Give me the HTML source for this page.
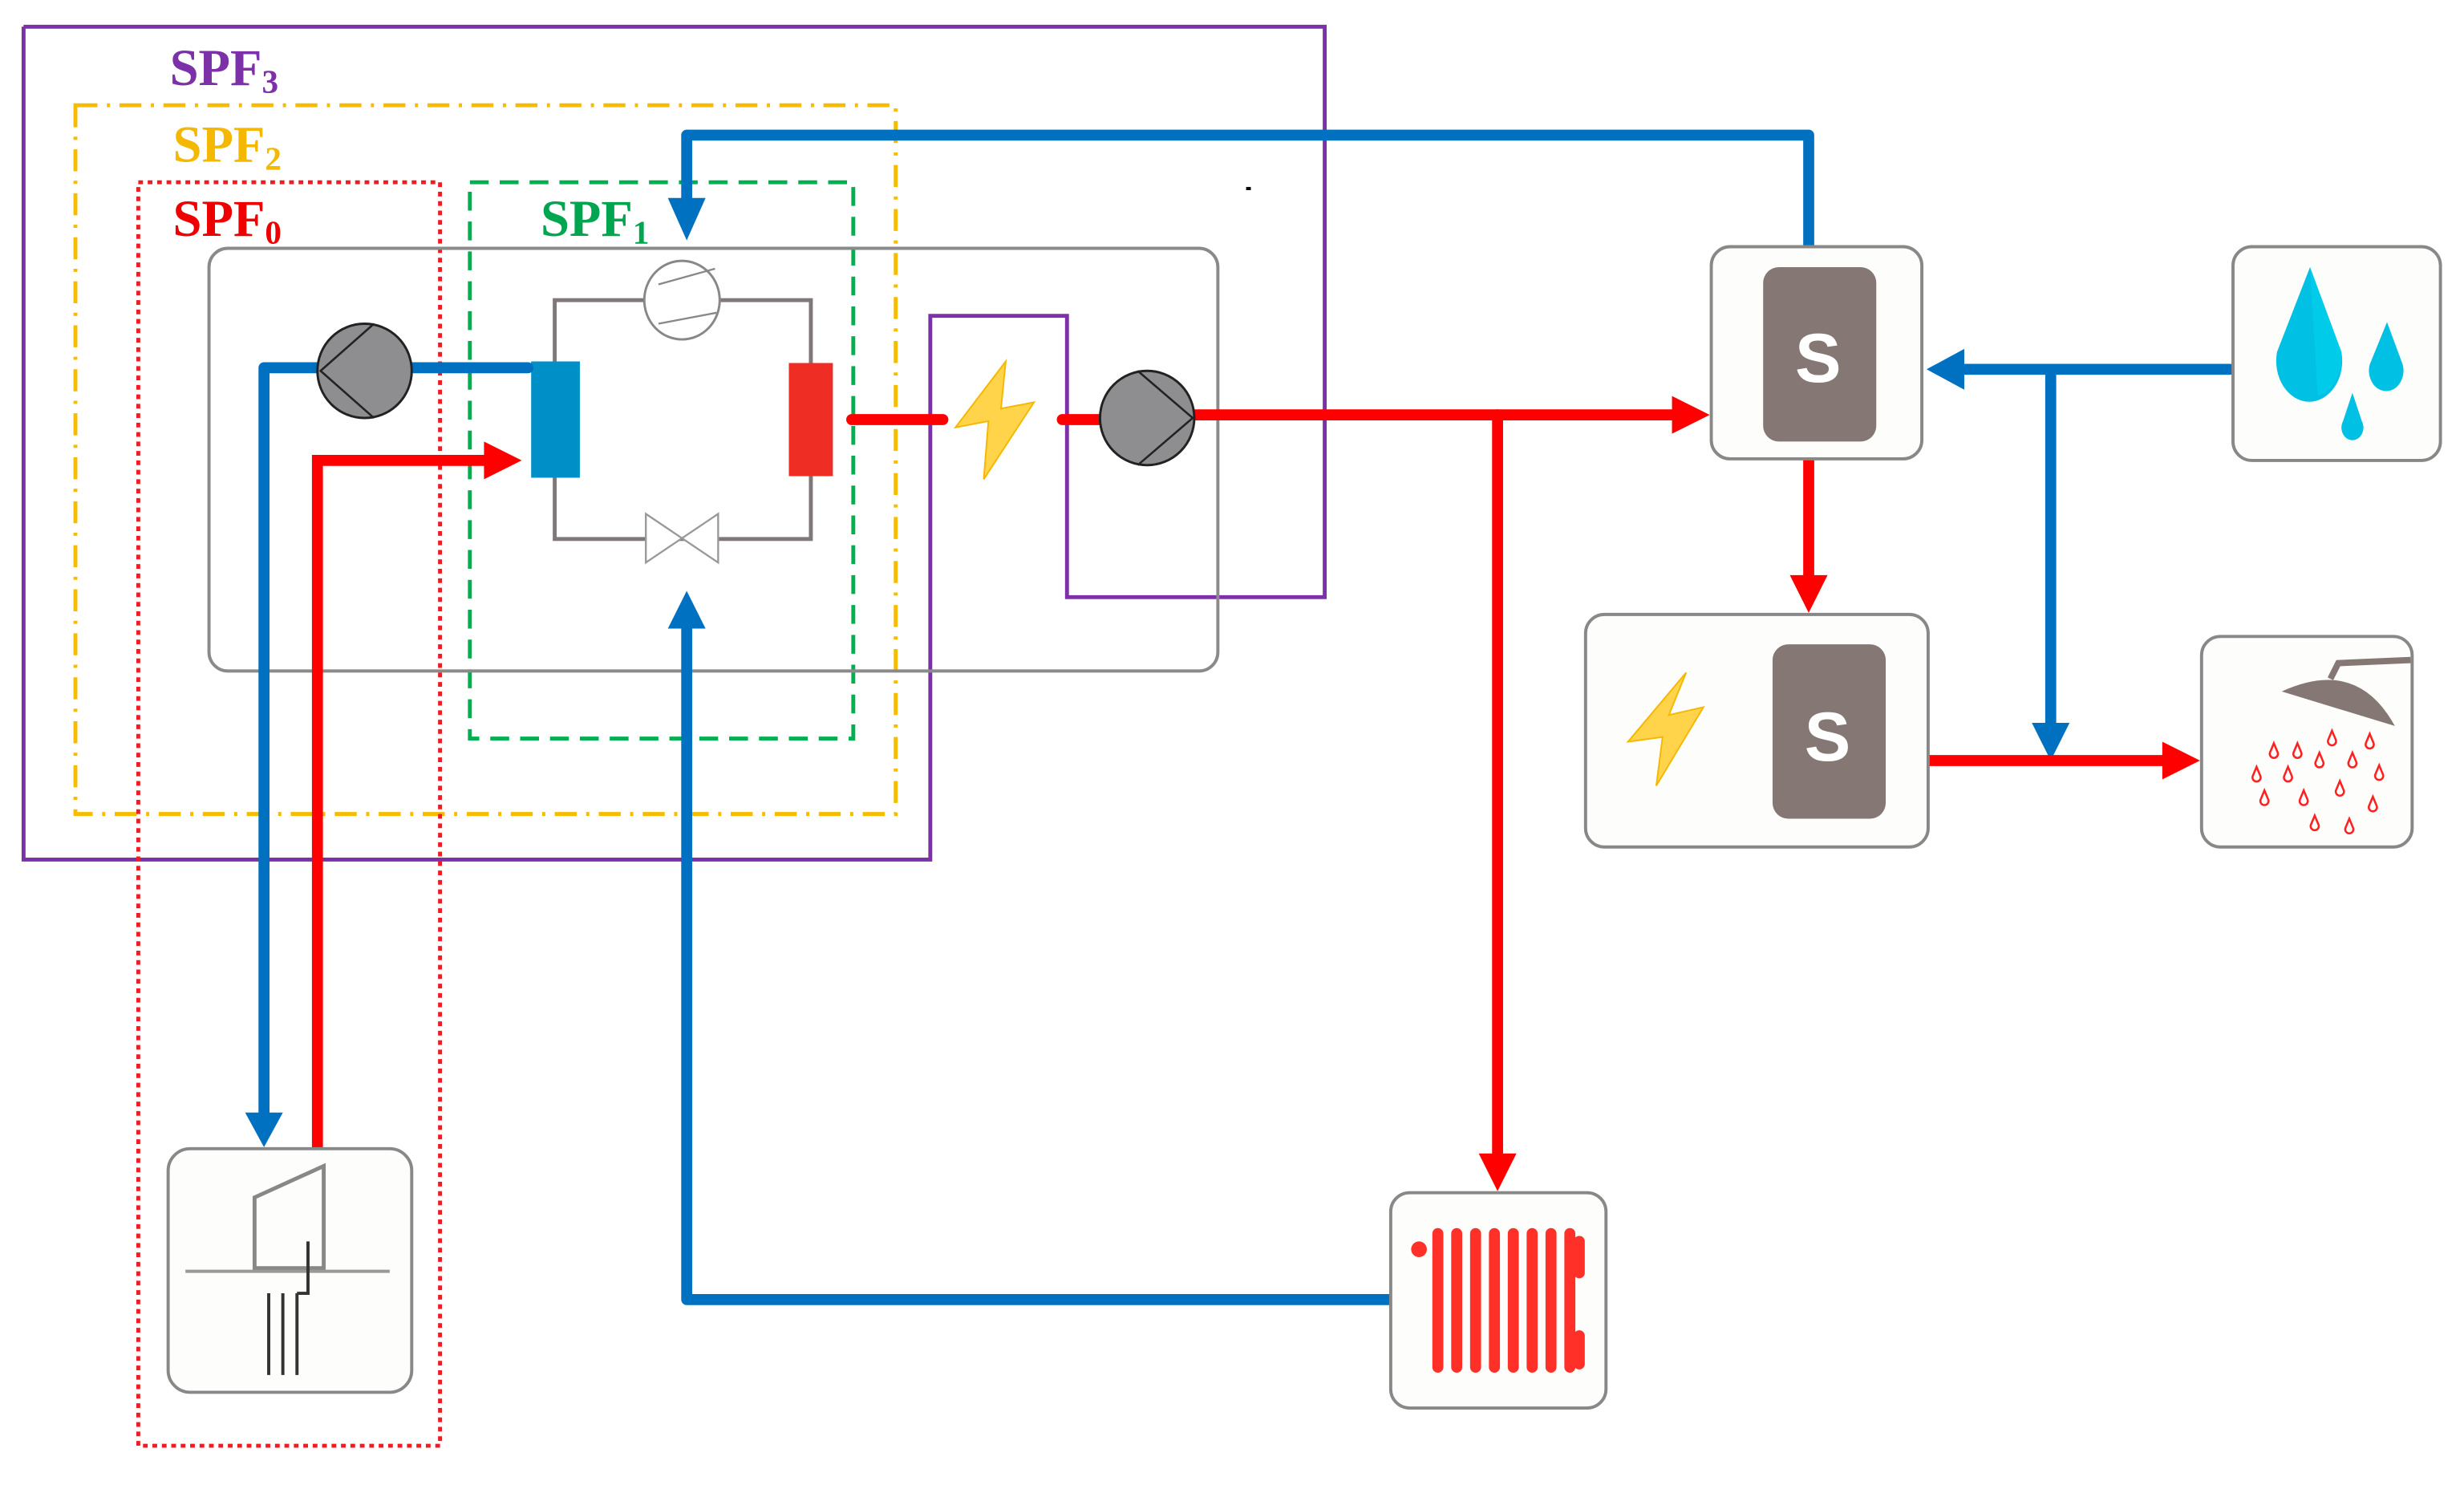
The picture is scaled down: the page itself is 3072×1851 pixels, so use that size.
<!DOCTYPE html>
<html><head><meta charset="utf-8"><style>
html,body{margin:0;padding:0;background:#fff;}
svg{display:block;}
.lbl{font-family:"Liberation Serif",serif;font-weight:bold;font-size:33px;}
.sub{font-size:21px;}
</style></head><body>
<svg width="3072" height="1851" viewBox="0 0 1568 945" preserveAspectRatio="none" xmlns="http://www.w3.org/2000/svg">
<polyline points="15,17 843,17 843,380 679,380 679,201 592,201 592,547 15,547 15,17" fill="none" stroke="#7d31a8" stroke-width="2.5"/>
<rect x="48" y="67" width="522" height="451" fill="none" stroke="#f5bc00" stroke-width="2.5" stroke-dasharray="14,6,2,6"/>
<rect x="88" y="116" width="192" height="804" fill="none" stroke="#ee1c24" stroke-width="2.5" stroke-dasharray="3,3"/>
<rect x="299" y="116" width="244" height="354" fill="none" stroke="#00b050" stroke-width="2.5" stroke-dasharray="12,7"/>
<text class="lbl" x="108" y="54" fill="#7d31a8">SPF<tspan class="sub" dy="5">3</tspan></text>
<text class="lbl" x="110" y="103" fill="#f5b800">SPF<tspan class="sub" dy="5">2</tspan></text>
<text class="lbl" x="110" y="150" fill="#ee0000">SPF<tspan class="sub" dy="5">0</tspan></text>
<text class="lbl" x="344" y="150" fill="#00a550">SPF<tspan class="sub" dy="5">1</tspan></text>
<rect x="793" y="119" width="3" height="2" fill="#000"/>
<rect x="133" y="158" width="642" height="269" rx="12" fill="none" stroke="#8a8a8a" stroke-width="2"/>
<rect x="353" y="191" width="163" height="152" fill="none" stroke="#807878" stroke-width="2.5"/>
<ellipse cx="434" cy="191" rx="24" ry="25" fill="#fff" stroke="#888" stroke-width="1.5"/>
<line x1="419" y1="181" x2="455" y2="171" stroke="#888" stroke-width="1.2"/>
<line x1="419" y1="206" x2="456" y2="199" stroke="#888" stroke-width="1.2"/>
<polygon points="411,327 457,358 457,327 411,358" fill="#fff" stroke="#999" stroke-width="1.2"/>
<rect x="338" y="230" width="31" height="74" fill="#0090c8"/>
<rect x="502" y="231" width="28" height="72" fill="#ee2e24"/>
<g stroke="#0070c0" stroke-width="7" fill="none" stroke-linecap="round" stroke-linejoin="round">
<polyline points="336,234 262,234"/>
<polyline points="203,234 168,234 168,712"/>
<polyline points="1151,157 1151,86 437,86 437,130"/>
<polyline points="885,827 437,827 437,395"/>
<polyline points="1419,235 1245,235"/>
<polyline points="1305,235 1305,465"/>
</g>
<g fill="#0070c0">
<polygon points="156,708 180,708 168,730"/>
<polygon points="425,126 449,126 437,153"/>
<polygon points="425,400 449,400 437,376"/>
<polygon points="1250,222 1250,248 1226,235"/>
<polygon points="1293,460 1317,460 1305,484"/>
</g>
<g stroke="#ff0000" stroke-width="7" fill="none" stroke-linecap="round" stroke-linejoin="square">
<polyline points="202,730 202,293 312,293"/>
<polyline points="542,267 600,267"/>
<polyline points="676,267 700,267"/>
<polyline points="760,264 1068,264"/>
<polyline points="953,264 953,738"/>
<polyline points="1151,293 1151,370"/>
<polyline points="1228,484 1380,484"/>
</g>
<g fill="#ff0000">
<polygon points="308,281 308,305 332,293"/>
<polygon points="1064,252 1064,276 1088,264"/>
<polygon points="941,734 965,734 953,758"/>
<polygon points="1139,366 1163,366 1151,390"/>
<polygon points="1376,472 1376,496 1400,484"/>
</g>
<ellipse cx="232" cy="236" rx="30" ry="30" fill="#8e8e90" stroke="#222" stroke-width="1.5"/>
<polyline points="238,206 204,236 238,266" fill="none" stroke="#222" stroke-width="1.3"/>
<ellipse cx="730" cy="266" rx="30" ry="30" fill="#8e8e90" stroke="#222" stroke-width="1.5"/>
<polyline points="724,236 759,266 724,296" fill="none" stroke="#222" stroke-width="1.3"/>
<polygon points="640,230 608,272 629,268 626,305 658,256 637,260" fill="#ffd44a" stroke="#f5b800" stroke-width="1"/>
<rect x="1089" y="157" width="134" height="135" rx="12" fill="#fdfdfb" stroke="#888" stroke-width="2"/>
<rect x="1122" y="170" width="72" height="111" rx="10" fill="#857874"/>
<text x="1157" y="243" text-anchor="middle" font-family="Liberation Sans,sans-serif" font-weight="bold" font-size="44" fill="#fff">S</text>
<rect x="1009" y="391" width="218" height="148" rx="12" fill="#fdfdfb" stroke="#888" stroke-width="2"/>
<polygon points="1073,428 1036,472 1058,469 1054,500 1084,450 1062,455" fill="#ffd44a" stroke="#f5b800" stroke-width="1"/>
<rect x="1128" y="410" width="72" height="111" rx="10" fill="#857874"/>
<text x="1163" y="484" text-anchor="middle" font-family="Liberation Sans,sans-serif" font-weight="bold" font-size="44" fill="#fff">S</text>
<rect x="1421" y="157" width="132" height="136" rx="12" fill="#fdfdfb" stroke="#888" stroke-width="2"/>
<path d="M1470,170 L1490,224 A21,26 0 1 1 1449,224 Z" fill="#00c0e4"/>
<path d="M1470,170 L1490,224 A21,26 0 0 1 1475,252 Z" fill="#00ccea"/>
<path d="M1519,205 L1529,232 A11,13 0 1 1 1508,232 Z" fill="#00c0e4"/>
<path d="M1497,250 L1503,268 A7,8 0 1 1 1491,268 Z" fill="#00c0e4"/>
<rect x="1401" y="405" width="134" height="134" rx="12" fill="#fdfdfb" stroke="#888" stroke-width="2"/>
<path d="M1452,440 Q1500,418 1524,462 Z" fill="#857874"/>
<polyline points="1483,432 1488,422 1534,420" fill="none" stroke="#857874" stroke-width="4"/>
<g fill="none" stroke="#ff2020" stroke-width="1.3">
<path id="d" d="M0,-5 L2.5,1 A2.6,2.6 0 1 1 -2.5,1 Z" transform="translate(1447,478)"/>
<path d="M0,-5 L2.5,1 A2.6,2.6 0 1 1 -2.5,1 Z" transform="translate(1462,478)"/>
<path d="M0,-5 L2.5,1 A2.6,2.6 0 1 1 -2.5,1 Z" transform="translate(1484,470)"/>
<path d="M0,-5 L2.5,1 A2.6,2.6 0 1 1 -2.5,1 Z" transform="translate(1508,472)"/>
<path d="M0,-5 L2.5,1 A2.6,2.6 0 1 1 -2.5,1 Z" transform="translate(1436,493)"/>
<path d="M0,-5 L2.5,1 A2.6,2.6 0 1 1 -2.5,1 Z" transform="translate(1456,493)"/>
<path d="M0,-5 L2.5,1 A2.6,2.6 0 1 1 -2.5,1 Z" transform="translate(1476,484)"/>
<path d="M0,-5 L2.5,1 A2.6,2.6 0 1 1 -2.5,1 Z" transform="translate(1497,484)"/>
<path d="M0,-5 L2.5,1 A2.6,2.6 0 1 1 -2.5,1 Z" transform="translate(1514,492)"/>
<path d="M0,-5 L2.5,1 A2.6,2.6 0 1 1 -2.5,1 Z" transform="translate(1441,508)"/>
<path d="M0,-5 L2.5,1 A2.6,2.6 0 1 1 -2.5,1 Z" transform="translate(1466,508)"/>
<path d="M0,-5 L2.5,1 A2.6,2.6 0 1 1 -2.5,1 Z" transform="translate(1489,502)"/>
<path d="M0,-5 L2.5,1 A2.6,2.6 0 1 1 -2.5,1 Z" transform="translate(1510,512)"/>
<path d="M0,-5 L2.5,1 A2.6,2.6 0 1 1 -2.5,1 Z" transform="translate(1473,524)"/>
<path d="M0,-5 L2.5,1 A2.6,2.6 0 1 1 -2.5,1 Z" transform="translate(1495,526)"/>
</g>
<rect x="885" y="759" width="137" height="137" rx="12" fill="#fdfdfb" stroke="#888" stroke-width="2"/>
<circle cx="903" cy="795" r="5" fill="#ff3028"/>
<g stroke="#ff3028" stroke-width="7" stroke-linecap="round">
<line x1="915" y1="785" x2="915" y2="870"/><line x1="927" y1="785" x2="927" y2="870"/><line x1="939" y1="785" x2="939" y2="870"/>
<line x1="951" y1="785" x2="951" y2="870"/><line x1="963" y1="785" x2="963" y2="870"/><line x1="975" y1="785" x2="975" y2="870"/>
<line x1="987" y1="785" x2="987" y2="870"/><line x1="999" y1="785" x2="999" y2="870"/><line x1="1005" y1="790" x2="1005" y2="810"/><line x1="1005" y1="850" x2="1005" y2="868"/>
</g>
<rect x="107" y="731" width="155" height="155" rx="14" fill="#fdfdfb" stroke="#888" stroke-width="2"/>
<polygon points="162,762 206,742 206,807 162,807" fill="none" stroke="#888" stroke-width="2.5"/>
<line x1="118" y1="809" x2="248" y2="809" stroke="#999" stroke-width="2"/>
<g stroke="#333" stroke-width="2">
<line x1="171" y1="823" x2="171" y2="875"/><line x1="180" y1="823" x2="180" y2="875"/><line x1="189" y1="823" x2="189" y2="875"/>
<polyline points="189,823 196,823 196,790" fill="none"/>
</g>
</svg>
</body></html>
